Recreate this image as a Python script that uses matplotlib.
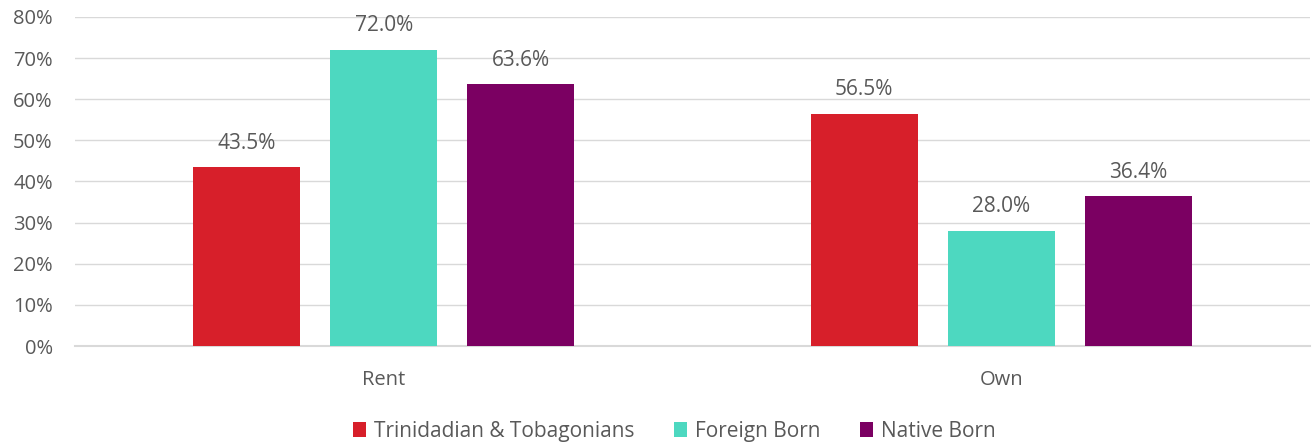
import matplotlib
matplotlib.use("Agg")
import matplotlib.pyplot as plt
import numpy as np

categories = ["Rent", "Own"]
series_names = ["Trinidadian & Tobagonians", "Foreign Born", "Native Born"]
trinidad = [43.5, 56.5]
foreign = [72.0, 28.0]
native = [63.6, 36.4]
colors = ["#D71F2A", "#4DD8C0", "#7B0062"]

plt.rcParams['font.family'] = ['Open Sans', 'DejaVu Sans']
text_color = "#595959"

fig = plt.figure(figsize=(13.15, 4.44), dpi=100)
ax = fig.add_axes([75 / 1315, 1 - 346 / 444, 1235 / 1315, (346 - 17) / 444])

x = np.arange(len(categories))
width = 0.173
offset = 0.222
for i, (vals, name) in enumerate(zip([trinidad, foreign, native], series_names)):
    bars = ax.bar(x + (i - 1) * offset, vals, width, color=colors[i], label=name, zorder=3)
    for b, v in zip(bars, vals):
        ax.text(b.get_x() + b.get_width() / 2, v + 3.3, f"{v:.1f}%", ha="center", va="bottom",
                fontsize=15, color=text_color)

ax.set_xlim(-0.5, 1.5)
ax.set_ylim(0, 80)
ax.set_yticks(range(0, 81, 10))
ax.set_yticklabels([f"{t}%" for t in range(0, 81, 10)])
ax.set_xticks(x)
ax.set_xticklabels(categories)
ax.grid(axis="y", color="#D9D9D9", linewidth=1, zorder=0)
ax.axhline(0, color="#D9D9D9", linewidth=1.5, zorder=2, clip_on=False)
for s in ax.spines.values():
    s.set_visible(False)
ax.tick_params(axis="both", length=0, labelsize=14.5, labelcolor=text_color)
ax.tick_params(axis="y", pad=16)
ax.tick_params(axis="x", pad=17)

ax.legend(loc="center", bbox_to_anchor=(0.5 - 18 / 1235, -0.26), ncol=3, frameon=False,
          fontsize=15, labelcolor=text_color, handlelength=0.6, handleheight=0.7,
          handletextpad=0.4, columnspacing=1.9)

fig.savefig("out.png", dpi=100)
